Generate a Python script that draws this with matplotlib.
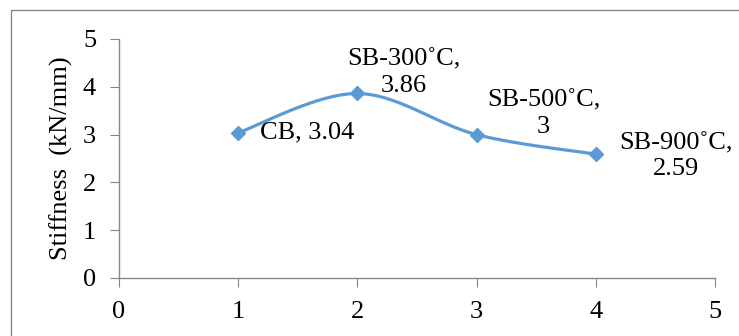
import numpy as np
import matplotlib.pyplot as plt
from matplotlib.patches import Rectangle

# datos
x = [1, 2, 3, 4]
stiffness = [3.04, 3.86, 3.0, 2.59]
names = ['CB', 'SB-300˚C', 'SB-500˚C', 'SB-900˚C']
label_text = ['CB, 3.04', 'SB-300˚C,\n3.86', 'SB-500˚C,\n3', 'SB-900˚C,\n2.59']

plt.rcParams['font.family'] = ['Liberation Serif', 'DejaVu Serif']


def smooth(xs, ys, n=40):
    # curva suavizada tipo Excel (Catmull-Rom en Bezier)
    px = np.array(xs, float)
    py = np.array(ys, float)
    ox, oy = [], []
    for i in range(len(px) - 1):
        x0, y0 = (px[i - 1], py[i - 1]) if i > 0 else (px[i], py[i])
        x3, y3 = (px[i + 2], py[i + 2]) if i + 2 < len(px) else (px[i + 1], py[i + 1])
        c1x = px[i] + (px[i + 1] - x0) / 6
        c1y = py[i] + (py[i + 1] - y0) / 6
        c2x = px[i + 1] - (x3 - px[i]) / 6
        c2y = py[i + 1] - (y3 - py[i]) / 6
        t = np.linspace(0, 1, n)
        bx = (1 - t)**3 * px[i] + 3 * (1 - t)**2 * t * c1x + 3 * (1 - t) * t**2 * c2x + t**3 * px[i + 1]
        by = (1 - t)**3 * py[i] + 3 * (1 - t)**2 * t * c1y + 3 * (1 - t) * t**2 * c2y + t**3 * py[i + 1]
        ox.extend(bx)
        oy.extend(by)
    return ox, oy


fig = plt.figure(figsize=(7.39, 3.36), dpi=100)
ax = fig.add_axes([119 / 739, 1 - 278 / 336, (715 - 119) / 739, (278 - 39) / 336])

sx, sy = smooth(x, stiffness)
ax.plot(sx, sy, color='#5B9BD5', lw=2.3, zorder=3)
ax.plot(x, stiffness, ls='none', marker='D', ms=7, color='#5B9BD5', zorder=4)

offsets = [(22, 0), (46, 21), (67, 21), (80, -2)]
for xi, yi, txt, off in zip(x, stiffness, label_text, offsets):
    ha = 'left' if '\n' not in txt else 'center'
    ax.annotate(txt, (xi, yi), xytext=off, textcoords='offset pixels',
                ha=ha, va='center', multialignment='center', fontsize=19,
                linespacing=1.25)

ax.set_xlim(0, 5)
ax.set_ylim(0, 5)
ax.set_xticks(range(6))
ax.set_yticks(range(6))
ax.spines['top'].set_visible(False)
ax.spines['right'].set_visible(False)
for s in ['left', 'bottom']:
    ax.spines[s].set_color('#868686')
    ax.spines[s].set_linewidth(1)
ax.tick_params(colors='#868686', labelcolor='black', labelsize=19, length=6.5, pad=10)
ax.set_ylabel('Stiffness  (kN/mm)', fontsize=19, labelpad=7)

# borde del gráfico
fig.patches.append(Rectangle((11 / 739, -0.1), 1.2, 1 - 10 / 336 + 0.1,
                             transform=fig.transFigure, fill=False,
                             edgecolor='#868686', lw=1))

fig.savefig('out.png', dpi=100)
